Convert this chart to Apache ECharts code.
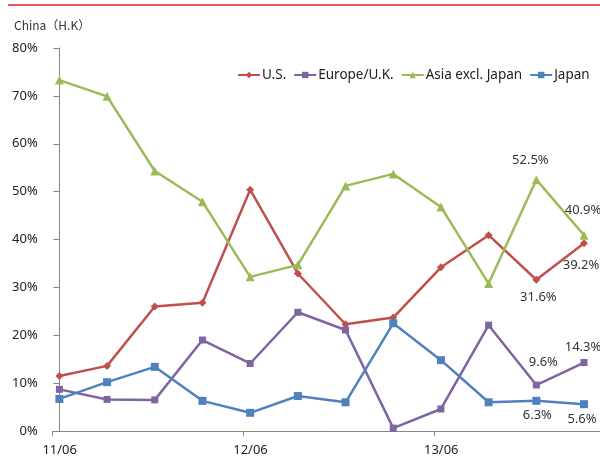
<!DOCTYPE html>
<html>
<head>
<meta charset="utf-8">
<script src="https://cdn.jsdelivr.net/npm/echarts@6/dist/echarts.min.js"></script>
<style>
  html, body { margin: 0; padding: 0; background: #fff; }
  #chart { width: 600px; height: 460px; }
</style>
</head>
<body>
<div id="chart"></div>
<script>
// Quarterly periods (yy/mm)
const categories = ['11/06', '11/09', '11/12', '12/03', '12/06', '12/09', '12/12', '13/03', '13/06', '13/09', '13/12', '14/03'];

// Share by region, in percent
const usValues     = [11.5, 13.6, 26.0, 26.8, 50.4, 32.9, 22.3, 23.7, 34.2, 40.9, 31.6, 39.2];
const europeValues = [8.7, 6.6, 6.5, 19.0, 14.1, 24.8, 21.1, 0.6, 4.6, 22.1, 9.6, 14.3];
const asiaValues   = [73.3, 69.9, 54.3, 47.9, 32.2, 34.7, 51.2, 53.7, 46.8, 30.8, 52.5, 40.9];
const japanValues  = [6.7, 10.2, 13.4, 6.3, 3.8, 7.3, 6.0, 22.5, 14.8, 6.0, 6.3, 5.6];

const yTicks = [0, 10, 20, 30, 40, 50, 60, 70, 80];

const labelFont = { fontFamily: 'Noto Sans', fontSize: 13, color: '#333' };

// Value labels are shown on the last two periods only
function buildData(values, labelCfg) {
  return values.map((v, i) => {
    const item = { value: [i, v] };
    if (labelCfg[i]) {
      item.label = Object.assign({
        show: true,
        formatter: p => p.value[1].toFixed(1) + '%'
      }, labelFont, labelCfg[i]);
    }
    return item;
  });
}

const last = categories.length - 1;

const chart = echarts.init(document.getElementById('chart'), null, { renderer: 'canvas' });

chart.setOption({
  animation: false,
  backgroundColor: '#fff',
  title: {
    text: 'China（H.K）',
    left: 9, top: 14,
    textStyle: { fontFamily: 'Noto Sans CJK JP', fontSize: 12, fontWeight: 'normal', color: '#333' }
  },
  graphic: [{
    type: 'rect',
    shape: { x: 8, y: 4, width: 592, height: 2 },
    style: { fill: '#E8565E' },
    silent: true
  }],
  legend: {
    left: 232, top: 63,
    itemWidth: 22, itemHeight: 8, itemGap: 7,
    textStyle: { fontFamily: 'Noto Sans', fontSize: 13.5, color: '#222', padding: [0, 0, 0, -3] },
    data: ['U.S.', 'Europe/U.K.', 'Asia excl. Japan', 'Japan']
  },
  grid: { left: 52.7, right: 0, top: 48, bottom: 29, containLabel: false },
  xAxis: {
    type: 'value',
    min: -0.14, max: 11.335, interval: 4,
    splitLine: { show: false },
    axisLine: { lineStyle: { color: '#868686', width: 1 } },
    axisTick: { show: true, length: 5, lineStyle: { color: '#868686' } },
    axisLabel: {
      margin: 13,
      fontFamily: 'Noto Sans', fontSize: 13, color: '#222',
      padding: [0, 0, 0, 14],
      showMaxLabel: false,
      formatter: v => {
        const idx = Math.round(v);
        return (idx >= 0 && idx % 4 === 0 && categories[idx]) ? categories[idx] : '';
      }
    }
  },
  yAxis: {
    type: 'value',
    min: yTicks[0], max: yTicks[yTicks.length - 1], interval: 10,
    splitLine: { show: false },
    axisLine: { show: true, lineStyle: { color: '#868686', width: 1 } },
    axisTick: { show: true, length: 6, lineStyle: { color: '#868686' } },
    axisLabel: {
      margin: 15,
      fontFamily: 'Noto Sans', fontSize: 13, color: '#222',
      formatter: '{value}%'
    }
  },
  series: [
    {
      name: 'U.S.', type: 'line',
      symbol: 'diamond', symbolSize: 8,
      itemStyle: { color: '#C0504D' },
      lineStyle: { width: 2.5, color: '#C0504D' },
      data: buildData(usValues, {
        [last - 1]: { position: 'bottom', offset: [2, 2] },
        [last]: { position: 'bottom', offset: [-3, 6] }
      })
    },
    {
      name: 'Europe/U.K.', type: 'line',
      symbol: 'rect', symbolSize: 7,
      itemStyle: { color: '#8064A2' },
      lineStyle: { width: 2.5, color: '#8064A2' },
      data: buildData(europeValues, {
        [last - 1]: { position: 'top', offset: [7, -8] },
        [last]: { position: 'top', offset: [-1, 0] }
      })
    },
    {
      name: 'Asia excl. Japan', type: 'line',
      symbol: 'triangle', symbolSize: 9,
      itemStyle: { color: '#9BBB59' },
      lineStyle: { width: 2.5, color: '#9BBB59' },
      data: buildData(asiaValues, {
        [last - 1]: { position: 'top', offset: [-6, -3] },
        [last]: { position: 'top', offset: [-1, -9] }
      })
    },
    {
      name: 'Japan', type: 'line',
      symbol: 'rect', symbolSize: 8,
      itemStyle: { color: '#4F81BD' },
      lineStyle: { width: 2.5, color: '#4F81BD' },
      data: buildData(japanValues, {
        [last - 1]: { position: 'bottom', offset: [1, -1] },
        [last]: { position: 'bottom', offset: [-2, 0] }
      })
    }
  ]
});
</script>
</body>
</html>
